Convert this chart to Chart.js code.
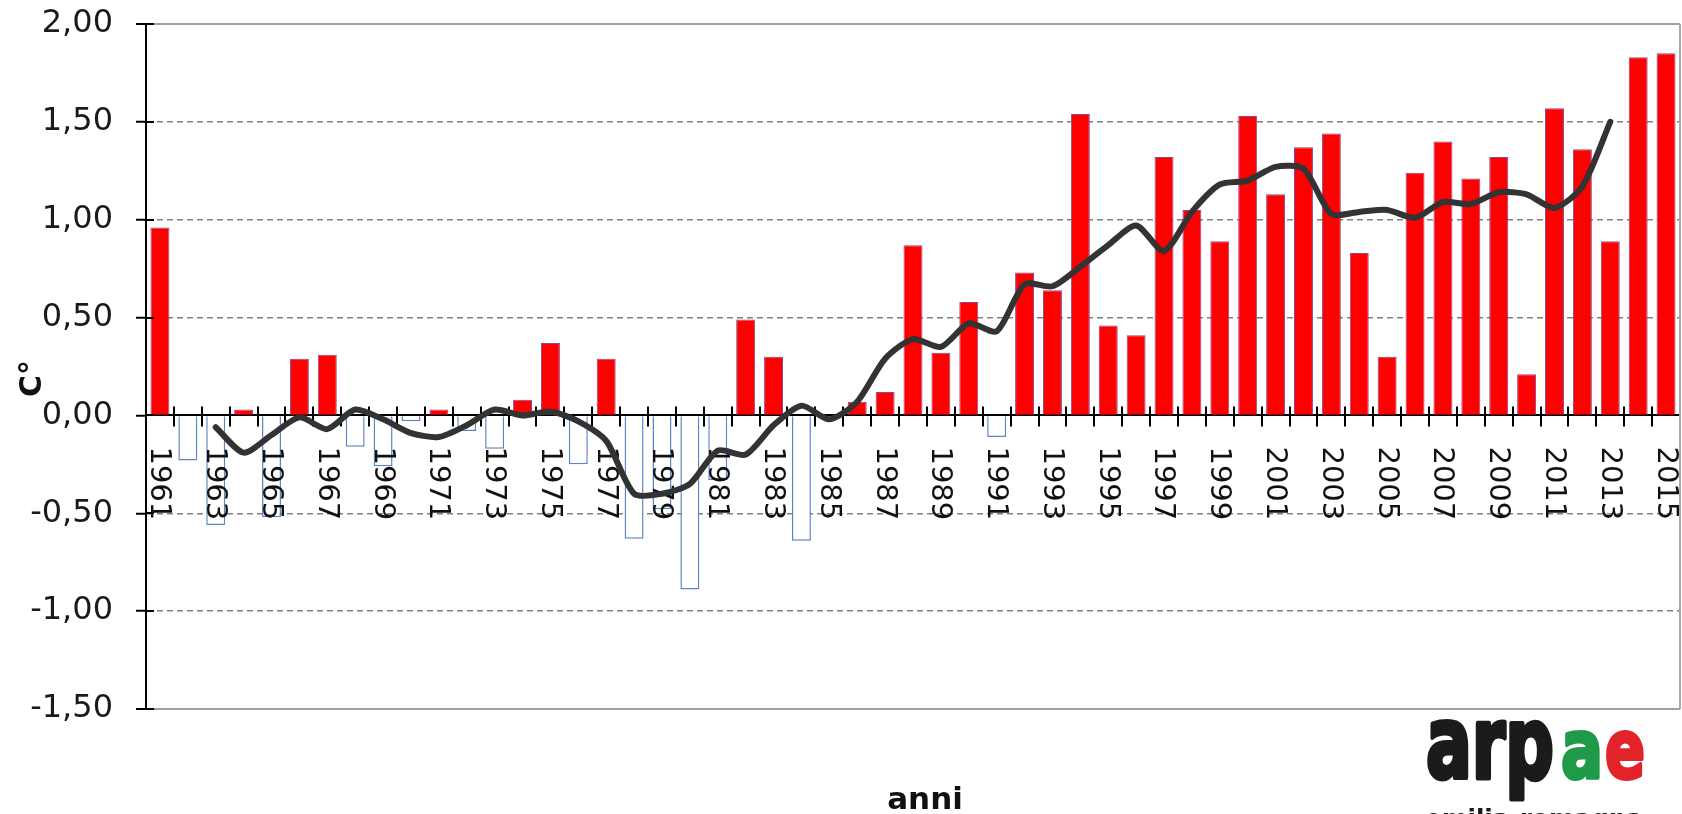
<!DOCTYPE html>
<html>
<head>
<meta charset="utf-8">
<script src="https://cdn.jsdelivr.net/npm/chart.js@4/dist/chart.umd.min.js"></script>
<style>
html,body{margin:0;padding:0;background:#ffffff;}
#wrap{width:1682px;height:814px;position:relative;background:#ffffff;}
</style>
</head>
<body>
<div id="wrap"><canvas id="c" width="1682" height="814"></canvas></div>
<script>
const years = ['1961','1962','1963','1964','1965','1966','1967','1968','1969','1970',
  '1971','1972','1973','1974','1975','1976','1977','1978','1979','1980',
  '1981','1982','1983','1984','1985','1986','1987','1988','1989','1990',
  '1991','1992','1993','1994','1995','1996','1997','1998','1999','2000',
  '2001','2002','2003','2004','2005','2006','2007','2008','2009','2010',
  '2011','2012','2013','2014','2015'];

const anomalies = [0.96, -0.23, -0.56, 0.03, -0.52, 0.29, 0.31, -0.16, -0.26, -0.03,
  0.03, -0.08, -0.17, 0.08, 0.37, -0.25, 0.29, -0.63, -0.48, -0.89,
  -0.33, 0.49, 0.30, -0.64, 0.00, 0.07, 0.12, 0.87, 0.32, 0.58,
  -0.11, 0.73, 0.64, 1.54, 0.46, 0.41, 1.32, 1.05, 0.89, 1.53,
  1.13, 1.37, 1.44, 0.83, 0.30, 1.24, 1.40, 1.21, 1.32, 0.21,
  1.57, 1.36, 0.89, 1.83, 1.85];

const movingAverage = [null, null, -0.06, -0.19, -0.10, -0.01, -0.07, 0.03, -0.02, -0.09,
  -0.11, -0.05, 0.03, 0.00, 0.02, -0.03, -0.13, -0.40, -0.40, -0.35,
  -0.18, -0.20, -0.05, 0.05, -0.02, 0.07, 0.29, 0.39, 0.35, 0.47,
  0.43, 0.67, 0.66, 0.76, 0.87, 0.97, 0.84, 1.04, 1.18, 1.20,
  1.27, 1.26, 1.03, 1.04, 1.05, 1.01, 1.09, 1.08, 1.14, 1.13,
  1.06, 1.17, 1.50, null, null];

const yTickValues = [-1.5, -1.0, -0.5, 0, 0.5, 1.0, 1.5, 2.0];
const yAxisTitle = 'C°';
const xAxisTitle = 'anni';

const FONT = '"DejaVu Sans", Verdana, sans-serif';

function isEdge(v){ return v === 2 || v === -1.5; }

const decor = {
  id: 'decor',
  beforeDatasetDraw(chart, args) {
    if (args.index !== 0) return; // just before the line dataset: after bars
    const {ctx, scales:{x, y}} = chart;
    const y0 = y.getPixelForValue(0);
    ctx.save();
    // x axis tick marks at category boundaries
    ctx.strokeStyle = '#000'; ctx.lineWidth = 2;
    for (let i = 1; i < years.length; i++) {
      const bx = Math.round((x.getPixelForValue(i - 1) + x.getPixelForValue(i)) / 2);
      ctx.beginPath(); ctx.moveTo(bx, y0 - 9); ctx.lineTo(bx, y0 + 11); ctx.stroke();
    }
    // year labels, rotated clockwise
    ctx.fillStyle = '#111'; ctx.font = '29px ' + FONT;
    ctx.textAlign = 'left'; ctx.textBaseline = 'middle';
    years.forEach((lab, i) => {
      if (i % 2) return;
      const px = x.getPixelForValue(i);
      ctx.save(); ctx.translate(px, y0 + 31); ctx.rotate(Math.PI / 2);
      ctx.fillText(lab, 0, 1); ctx.restore();
    });
    ctx.restore();
  },
  afterDraw(chart) {
    const {ctx, chartArea:a, scales:{y}} = chart;
    ctx.save();
    // right border of plot
    ctx.strokeStyle = '#a8a8a8'; ctx.lineWidth = 2;
    ctx.beginPath(); ctx.moveTo(a.right, y.getPixelForValue(2)); ctx.lineTo(a.right, y.getPixelForValue(-1.5)); ctx.stroke();
    // inner part of y ticks
    ctx.strokeStyle = '#000'; ctx.lineWidth = 2;
    yTickValues.forEach(v => {
      const py = Math.round(y.getPixelForValue(v));
      ctx.beginPath(); ctx.moveTo(a.left, py); ctx.lineTo(a.left + 8, py); ctx.stroke();
    });
    // y axis title
    ctx.fillStyle = '#111'; ctx.font = 'bold 30px ' + FONT;
    ctx.textAlign = 'center'; ctx.textBaseline = 'middle';
    ctx.save(); ctx.translate(33, (a.top + a.bottom) / 2 + 12); ctx.rotate(-Math.PI / 2);
    ctx.fillText(yAxisTitle, 0, 0); ctx.restore();
    // x axis title
    ctx.font = 'bold 31px ' + FONT; ctx.textBaseline = 'alphabetic';
    ctx.fillText(xAxisTitle, (a.left + a.right) / 2 + 12, 809);
    // logo
    drawLogo(ctx, 1423, 778);
    ctx.restore();
  }
};

function drawPart(ctx, text, font, color, x, base, targetW, stroke) {
  ctx.font = font;
  const w = ctx.measureText(text).width;
  ctx.save(); ctx.translate(x, base); ctx.scale(targetW / w, 1);
  ctx.fillStyle = color; ctx.strokeStyle = color; ctx.lineJoin = 'round';
  ctx.textAlign = 'left'; ctx.textBaseline = 'alphabetic';
  ctx.fillText(text, 0, 0);
  if (stroke) { ctx.lineWidth = stroke; ctx.strokeText(text, 0, 0); }
  ctx.restore();
}
function drawLogo(ctx, x, base) {
  drawPart(ctx, 'arp', 'bold 100px ' + FONT, '#1b1b1b', x + 3, base, 128, 5);
  drawPart(ctx, 'a', 'bold 82px ' + FONT, '#1f9a48', x + 138, base, 42, 4);
  drawPart(ctx, 'e', 'bold 82px ' + FONT, '#e3232a', x + 182, base, 40, 4);
  drawPart(ctx, 'emilia-romagna', 'bold 25px ' + FONT, '#1b1b1b', x + 2, base + 49, 218, 0);
}

new Chart(document.getElementById('c'), {
  type: 'bar',
  data: {
    labels: years,
    datasets: [
      {
        type: 'line', data: movingAverage, order: 0,
        borderColor: '#333333', borderWidth: 6, pointRadius: 0, pointHoverRadius: 0,
        tension: 0.25, spanGaps: false, borderCapStyle: 'round', borderJoinStyle: 'round', fill: false
      },
      {
        type: 'bar', data: anomalies, order: 1,
        backgroundColor: ctx => (ctx.raw >= 0 ? '#ff0000' : '#ffffff'),
        borderColor: ctx => (ctx.raw >= 0 ? '#8a4a8f' : '#5d86c4'),
        borderWidth: ctx => (ctx.raw >= 0 ? 1 : 1.5),
        barPercentage: 0.68, categoryPercentage: 1.0
      }
    ]
  },
  options: {
    responsive: false, animation: false, devicePixelRatio: 1,
    layout: { padding: { left: 0, right: 2, top: 24, bottom: 105 } },
    plugins: { legend: { display: false }, tooltip: { enabled: false }, title: { display: false } },
    scales: {
      x: {
        type: 'category', position: { y: 0 }, offset: true,
        grid: { display: false, drawTicks: false },
        border: { display: true, color: '#000000', width: 2 },
        ticks: { display: false }
      },
      y: {
        min: -1.5, max: 2,
        afterBuildTicks: s => { s.ticks = yTickValues.map(v => ({ value: v })); },
        afterFit: s => { s.width = 146; s.paddingTop = 0; s.paddingBottom = 0; },
        ticks: {
          callback: v => Number(v).toFixed(2).replace('.', ','),
          font: { family: FONT, size: 32 }, color: '#1a1a1a', padding: 23
        },
        grid: {
          color: c => (c.tick && c.tick.value === 0) ? 'rgba(0,0,0,0)' : (c.tick && isEdge(c.tick.value) ? '#a0a0a0' : '#808080'),
          lineWidth: c => (c.tick && isEdge(c.tick.value)) ? 2 : 1.5,
          drawTicks: true, tickLength: 10, tickColor: '#000000', tickWidth: 2
        },
        border: {
          display: true, color: '#000000', width: 2,
          dash: c => (c.tick && !isEdge(c.tick.value)) ? [6, 4] : []
        }
      }
    }
  },
  plugins: [decor]
});
</script>
</body>
</html>
